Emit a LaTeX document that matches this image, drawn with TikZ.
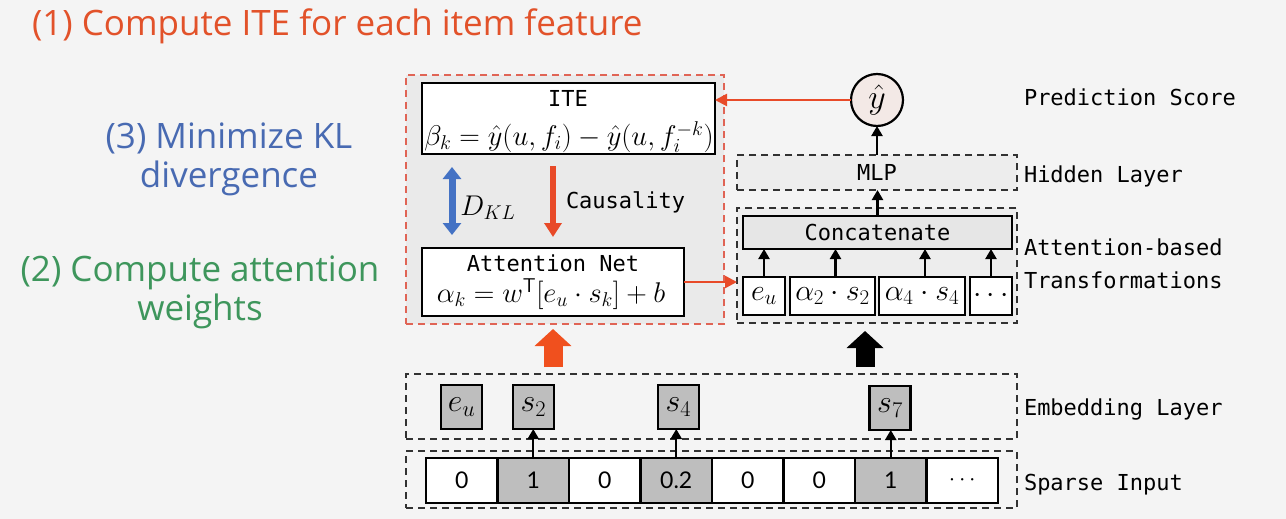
\RequirePackage{fix-cm}
\documentclass[tikz,border=0pt]{standalone}
\usepackage[no-math]{fontspec}
\setmainfont{Open Sans}
\newfontfamily\monofont{DejaVu Sans Mono}
\newfontfamily\digitfont{Lato}
\usetikzlibrary{arrows.meta}

\definecolor{bgcol}{RGB}{244,244,244}
\definecolor{titlered}{RGB}{226,82,42}
\definecolor{noteblue}{RGB}{72,106,178}
\definecolor{notegreen}{RGB}{62,150,92}
\definecolor{arrred}{RGB}{232,74,40}
\definecolor{blockred}{RGB}{240,80,30}
\definecolor{klblue}{RGB}{68,114,196}
\definecolor{dashred}{RGB}{224,100,85}
\definecolor{dashgray}{RGB}{50,50,50}
\definecolor{panelfill}{RGB}{234,234,234}
\definecolor{layerfill}{RGB}{237,237,237}
\definecolor{concfill}{RGB}{230,230,230}
\definecolor{embfill}{RGB}{190,190,190}
\definecolor{hatfill}{RGB}{243,233,230}

\newcommand{\formula}[1]{{\fontsize{28.5}{32}\selectfont$#1$}}

\begin{document}
\begin{tikzpicture}[x=1pt,y=-1pt,
  every node/.style={inner sep=0pt, outer sep=0pt},
  dashbox/.style={draw=dashgray, line width=1.9pt, dash pattern=on 7pt off 5pt},
  reddashbox/.style={draw=dashred, line width=1.9pt, dash pattern=on 7pt off 5pt, fill=panelfill},
  solidbox/.style={draw=black, line width=2.2pt},
  embbox/.style={solidbox, fill=embfill, minimum width=41pt, minimum height=44pt,
    font=\fontsize{32}{36}\selectfont},
  tokbox/.style={solidbox, fill=white, minimum height=38pt, font=\fontsize{30}{34}\selectfont},
  cell/.style={solidbox, minimum width=71.5pt, minimum height=45pt,
    font=\fontsize{23}{27}\selectfont\digitfont},
  mono/.style={font=\fontsize{22}{26}\selectfont\monofont},
  note/.style={font=\fontsize{35}{40}\selectfont, anchor=base},
  layerlabel/.style={mono, anchor=base west},
  smallarrow/.style={-{Triangle[width=11pt,length=10pt]}, line width=2.2pt, draw=black},
  redarrow/.style={-{Triangle[width=12pt,length=12pt]}, line width=2.5pt, draw=arrred},
  blockarrow/.style={-{Triangle[width=36pt,length=17pt]}, line width=19pt},
]
% canvas
\fill[bgcol] (0,0) rectangle (1286,519);
\useasboundingbox (0,0) rectangle (1286,519);

% side notes
\node[note, text=titlered, anchor=base west] (title) at (32,36) {(1) Compute ITE for each item feature};
\node[note, text=noteblue] (kl1) at (229,148) {(3) Minimize KL};
\node[note, text=noteblue] (kl2) at (229,187) {divergence};
\node[note, text=notegreen] (aw1) at (200,281) {(2) Compute attention};
\node[note, text=notegreen] (aw2) at (200,320) {weights};

% causal panel
\node[reddashbox, minimum width=318pt, minimum height=249pt] (panel) at (565,199.5) {};
\node[solidbox, fill=white, minimum width=293pt, minimum height=71pt] (ite) at (568.5,118.5) {};
\node[mono] (itetitle) at (568,98) {ITE};
\node (iteformula) at (569,137) {\formula{\beta_k=\hat{y}(u,f_i)-\hat{y}(u,f_i^{-k})}};
\node[solidbox, fill=white, minimum width=262pt, minimum height=68pt] (att) at (553,282) {};
\node[mono] (atttitle) at (553,263) {Attention Net};
\node (attformula) at (551,294) {\formula{\alpha_k=w^{\mathsf{T}}[e_u\cdot s_k]+b}};

\coordinate (klA) at (452,167);
\coordinate (klB) at (452,235);
\draw[draw=klblue, line width=7pt,
  {Triangle[width=18pt,length=12pt]}-{Triangle[width=18pt,length=12pt]}] (klA) -- (klB);
\node (dkl) at (488,208) {\formula{D_{KL}}};
\coordinate (caA) at (553,166);
\coordinate (caB) at (553,237);
\draw[draw=arrred, line width=6pt, -{Triangle[width=17pt,length=14pt]}] (caA) -- (caB);
\node[mono, anchor=west] (causality) at (566,202) {Causality};

% prediction side
\node[circle, solidbox, fill=hatfill, minimum size=52pt, font=\fontsize{34}{38}\selectfont] (yhat) at (877,100) {$\hat{y}$};
\node[dashbox, fill=layerfill, minimum width=280pt, minimum height=35pt] (mlp) at (877,172.5) {};
\node[mono] (mlplabel) at (877,172.5) {MLP};
\node[dashbox, fill=layerfill, minimum width=280pt, minimum height=115pt] (atlayer) at (877,265.5) {};
\node[solidbox, fill=concfill, minimum width=269pt, minimum height=33pt, mono] (conc) at (877.5,232.5) {Concatenate};
\node[tokbox, minimum width=42pt] (t1) at (764,296) {$e_u$};
\node[tokbox, minimum width=85pt] (t2) at (832.5,296) {$\alpha_2\cdot s_2$};
\node[tokbox, minimum width=86pt] (t3) at (922,296) {$\alpha_4\cdot s_4$};
\node[tokbox, minimum width=42pt] (t4) at (991,296) {$\cdots$};

\draw[smallarrow] (t1.north) -- (t1.north |- conc.south);
\draw[smallarrow] ([xshift=3pt]t2.north) -- ([xshift=3pt]t2.north |- conc.south);
\draw[smallarrow] ([xshift=3pt]t3.north) -- ([xshift=3pt]t3.north |- conc.south);
\draw[smallarrow] (t4.north) -- (t4.north |- conc.south);
\draw[smallarrow] (conc.north) -- (conc.north |- mlp.south);
\draw[smallarrow] (mlp.north) -- (yhat.south);

\draw[redarrow] (yhat.west) -- (yhat.west -| ite.east);
\draw[redarrow] (att.east) -- (att.east -| atlayer.west);

% lower layers
\node[dashbox, minimum width=611pt, minimum height=65pt] (emb) at (711.5,406.5) {};
\node[embbox] (eu) at (461.5,407) {$e_u$};
\node[embbox] (s2) at (533.5,407) {$s_2$};
\node[embbox] (s4) at (678.5,407) {$s_4$};
\node[embbox] (s7) at (890,408) {$s_7$};

\node[dashbox, minimum width=611pt, minimum height=57pt] (sparse) at (711.5,479.5) {};
\node[cell, fill=white]   (c1) at (461.75,480.5) {0};
\node[cell, fill=embfill] (c2) at (533.25,480.5) {1};
\node[cell, fill=white]   (c3) at (604.75,480.5) {0};
\node[cell, fill=embfill] (c4) at (676.25,480.5) {0.2};
\node[cell, fill=white]   (c5) at (747.75,480.5) {0};
\node[cell, fill=white]   (c6) at (819.25,480.5) {0};
\node[cell, fill=embfill] (c7) at (890.75,480.5) {1};
\node[cell, fill=white]   (c8) at (962.25,480.5) {$\cdots$};

\draw[smallarrow] (c2.north) -- (c2.north |- s2.south);
\draw[smallarrow] (c4.north) -- (c4.north |- s4.south);
\draw[smallarrow] (c7.north) -- (c7.north |- s7.south);

% block arrows into the two branches
\coordinate (rbA) at (553,367);
\coordinate (rbB) at (553,329);
\draw[blockarrow, draw=blockred] (rbA) -- (rbB);
\coordinate (bbA) at (865,367);
\coordinate (bbB) at (865,331);
\draw[blockarrow, draw=black] (bbA) -- (bbB);

% layer names
\node[layerlabel] (lpred) at (1024,106) {Prediction Score};
\node[layerlabel] (lhid) at (1024,182) {Hidden Layer};
\node[layerlabel] (latt1) at (1024,255) {Attention-based};
\node[layerlabel] (latt2) at (1024,288) {Transformations};
\node[layerlabel] (lemb) at (1024,415) {Embedding Layer};
\node[layerlabel] (lspa) at (1024,490) {Sparse Input};
\end{tikzpicture}
\end{document}
